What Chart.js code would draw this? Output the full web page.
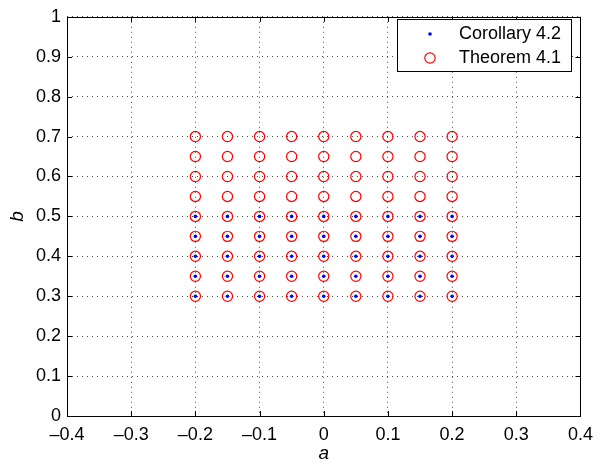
<!DOCTYPE html>
<html>
<head>
<meta charset="utf-8">
<script src="https://cdn.jsdelivr.net/npm/chart.js@4"></script>
<style>
  html, body { margin: 0; padding: 0; background: #fff; }
  #wrap { width: 601px; height: 464px; }
</style>
</head>
<body>
<div id="wrap"><canvas id="myChart" width="601" height="464"></canvas></div>
<script>
// data
const aValues = [-0.2, -0.15, -0.1, -0.05, 0, 0.05, 0.1, 0.15, 0.2];
const corollaryB = [0.3, 0.35, 0.4, 0.45, 0.5];
const theoremB = [0.3, 0.35, 0.4, 0.45, 0.5, 0.55, 0.6, 0.65, 0.7];
const xTicks = [-0.4, -0.3, -0.2, -0.1, 0, 0.1, 0.2, 0.3, 0.4];
const yTicks = [0, 0.1, 0.2, 0.3, 0.4, 0.5, 0.6, 0.7, 0.8, 0.9, 1];
const seriesNames = ["Corollary 4.2", "Theorem 4.1"];

const FONT = "Liberation Sans, Arial, Helvetica, sans-serif";

function gridPoints(bs) {
  let pts = [];
  for (let i = 0; i < aValues.length; i++) {
    for (let j = 0; j < bs.length; j++) {
      pts.push({ x: aValues[i], y: bs[j] });
    }
  }
  return pts;
}

function fmt(v) {
  let s = String(Math.round(v * 10) / 10);
  return s.replace("-", "\u2013");
}

// box, inward ticks, legend, axis titles (matlab look)
const matlabFrame = {
  id: "matlabFrame",
  afterDatasetsDraw(chart) {
    const ctx = chart.ctx;
    const ca = chart.chartArea;
    const xs = chart.scales.x, ys = chart.scales.y;
    ctx.save();
    ctx.strokeStyle = "#000";
    ctx.lineWidth = 1;
    ctx.strokeRect(Math.round(ca.left) + 0.5, Math.round(ca.top) + 0.5,
      Math.round(ca.right - ca.left), Math.round(ca.bottom - ca.top));
    const tl = 5;
    ctx.beginPath();
    xTicks.forEach(function (v) {
      const px = Math.round(xs.getPixelForValue(v)) + 0.5;
      ctx.moveTo(px, ca.bottom); ctx.lineTo(px, ca.bottom - tl);
      ctx.moveTo(px, ca.top); ctx.lineTo(px, ca.top + tl);
    });
    yTicks.forEach(function (v) {
      const py = Math.round(ys.getPixelForValue(v)) + 0.5;
      ctx.moveTo(ca.left, py); ctx.lineTo(ca.left + tl, py);
      ctx.moveTo(ca.right, py); ctx.lineTo(ca.right - tl, py);
    });
    ctx.stroke();

    // legend
    const lx = 397.5, ly = 19.5, lw = 174, lh = 52;
    ctx.fillStyle = "#fff";
    ctx.fillRect(lx, ly, lw, lh);
    ctx.strokeRect(lx, ly, lw, lh);
    ctx.fillStyle = "#0000ff";
    ctx.beginPath();
    ctx.arc(430, 34, 1.8, 0, Math.PI * 2);
    ctx.fill();
    ctx.strokeStyle = "#ff0000";
    ctx.lineWidth = 1.2;
    ctx.beginPath();
    ctx.arc(430, 58, 5.2, 0, Math.PI * 2);
    ctx.stroke();
    ctx.fillStyle = "#000";
    ctx.font = "18px " + FONT;
    ctx.textAlign = "left";
    ctx.textBaseline = "middle";
    ctx.fillText(seriesNames[0], 459, 34);
    ctx.fillText(seriesNames[1], 459, 58);

    // axis titles
    ctx.font = "italic 19px " + FONT;
    ctx.textAlign = "center";
    ctx.fillText("a", (ca.left + ca.right) / 2, 454);
    ctx.translate(18, (ca.top + ca.bottom) / 2);
    ctx.rotate(-Math.PI / 2);
    ctx.fillText("b", 0, 0);
    ctx.restore();
  }
};

const gridOpts = { color: "rgba(0,0,0,0.7)", drawTicks: false, lineWidth: 1 };
const borderOpts = { display: false, dash: [1, 4] };

let ctx = document.getElementById("myChart").getContext("2d");
let myChart = new Chart(ctx, {
  type: "scatter",
  data: {
    datasets: [
      {
        label: seriesNames[0],
        data: gridPoints(corollaryB),
        pointRadius: 1.8,
        pointBackgroundColor: "#0000ff",
        pointBorderWidth: 0,
        pointBorderColor: "#0000ff",
      },
      {
        label: seriesNames[1],
        data: gridPoints(theoremB),
        pointRadius: 5.1,
        pointBackgroundColor: "rgba(0,0,0,0)",
        pointBorderColor: "#ff0000",
        pointBorderWidth: 1.2,
      },
    ],
  },
  options: {
    responsive: false,
    animation: false,
    events: [],
    layout: { padding: { left: 0, right: 20, top: 12, bottom: 0 } },
    plugins: { legend: { display: false }, tooltip: { enabled: false } },
    scales: {
      x: {
        type: "linear",
        min: -0.4,
        max: 0.4,
        afterBuildTicks: function (s) { s.ticks = xTicks.map(function (v) { return { value: v }; }); },
        afterFit: function (s) { s.height = 48; },
        border: borderOpts,
        grid: gridOpts,
        ticks: { color: "#000", font: { family: FONT, size: 18 }, padding: 8, maxRotation: 0,
          callback: function (v) { return fmt(v); } },
      },
      y: {
        type: "linear",
        min: 0,
        max: 1,
        afterBuildTicks: function (s) { s.ticks = yTicks.map(function (v) { return { value: v }; }); },
        afterFit: function (s) { s.width = 67; },
        border: borderOpts,
        grid: gridOpts,
        ticks: { color: "#000", font: { family: FONT, size: 18 }, padding: 6,
          callback: function (v) { return fmt(v); } },
      },
    },
  },
  plugins: [matlabFrame],
});
</script>
</body>
</html>
